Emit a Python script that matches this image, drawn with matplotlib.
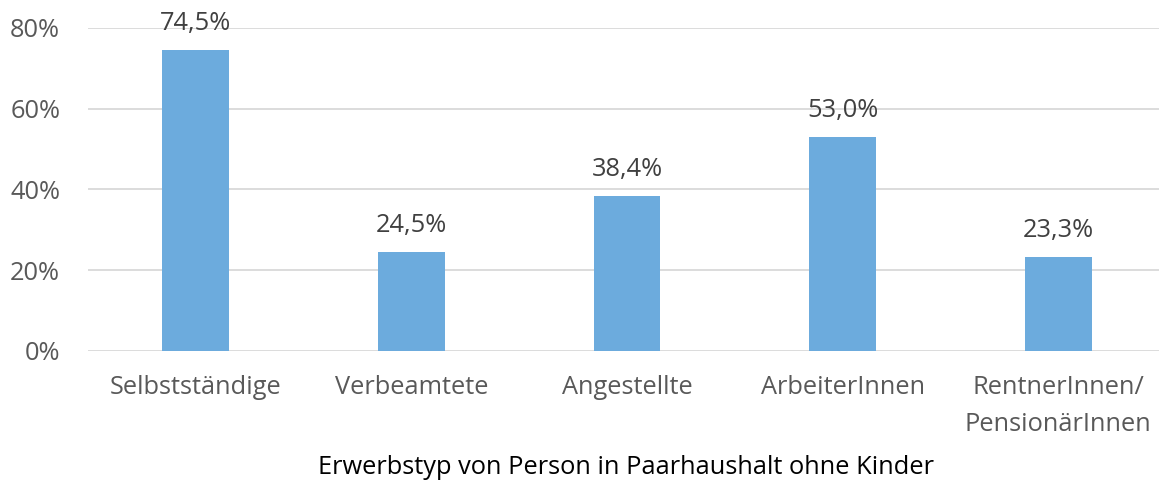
import matplotlib.pyplot as plt
import numpy as np

categories = ['Selbstständige', 'Verbeamtete', 'Angestellte', 'ArbeiterInnen', 'RentnerInnen/\nPensionärInnen']
values = [74.5, 24.5, 38.4, 53.0, 23.3]
yticks = [0, 20, 40, 60, 80]

plt.rcParams['font.family'] = ['Open Sans', 'DejaVu Sans']

fig = plt.figure(figsize=(11.59, 4.84), dpi=100)
ax = fig.add_axes([88 / 1159, 133 / 484, 1071 / 1159, 323 / 484])

x = np.arange(len(categories))
ax.bar(x, values, width=0.31, color='#6CABDD', zorder=2)

for xi, v in zip(x, values):
    ax.annotate(f'{v:.1f}%'.replace('.', ','), (xi, v), xytext=(0, 10),
                textcoords='offset points', ha='center', va='bottom',
                fontsize=18.3, color='#404040', clip_on=False)

ax.set_xlim(-0.5, 4.5 - 7 / 215.5)
ax.set_ylim(0, 80)
ax.set_yticks(yticks)
ax.set_yticklabels([f'{t}%' for t in yticks])
ax.set_xticks(x)
ax.set_xticklabels(categories, linespacing=1.65)
ax.grid(axis='y', color='#D9D9D9', linewidth=1.3, zorder=0)
ax.tick_params(axis='y', length=0, pad=20, labelsize=18.3, labelcolor='#595959')
ax.tick_params(axis='x', length=0, pad=17, labelsize=18.3, labelcolor='#595959')
for s in ax.spines.values():
    s.set_visible(False)

fig.text(0.5 * (318 + 935) / 1159, 1 - 467 / 484, 'Erwerbstyp von Person in Paarhaushalt ohne Kinder',
         ha='center', va='center', fontsize=18.3, color='black')

fig.savefig('out.png', dpi=100)
